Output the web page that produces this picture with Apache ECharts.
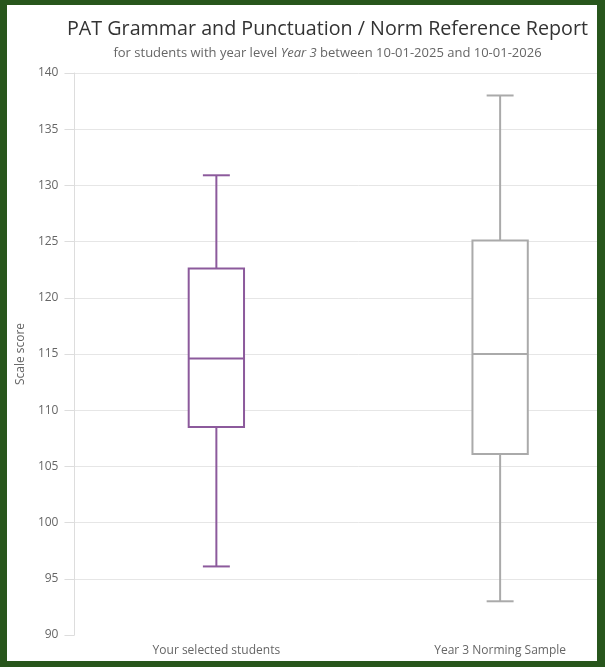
<!DOCTYPE html>
<html>
<head>
<meta charset="utf-8">
<script src="https://cdn.jsdelivr.net/npm/echarts@6/dist/echarts.min.js"></script>
<style>
  html, body { margin: 0; padding: 0; }
  #frame { position: relative; width: 605px; height: 667px; background: #28561c; }
  #inner { position: absolute; left: 7px; top: 5px; width: 590px; height: 656px; background: #fff; overflow: hidden; }
  #main { width: 641px; height: 656px; }
</style>
</head>
<body>
<div id="frame"><div id="inner"><div id="main"></div></div></div>
<script>
// categories and box values [min, q1, median, q3, max]
var categories = ['Your selected students', 'Year 3 Norming Sample']
var selectedStudents = [96.1, 108.5, 114.6, 122.6, 130.9]
var normingSample = [93.0, 106.1, 115.0, 125.1, 138.0]
var yTicks = [90, 95, 100, 105, 110, 115, 120, 125, 130, 135, 140]

var boxColors = ['#8c5a9c', '#aaaaaa']

var Chart = echarts.init(document.getElementById('main'))
var option = {
  backgroundColor: '#fff',
  textStyle: { fontFamily: 'Open Sans' },
  title: {
    text: 'PAT Grammar and Punctuation / Norm Reference Report',
    subtext: 'for students with year level {i|Year 3} between 10-01-2025 and 10-01-2026',
    left: 'center',
    top: 9,
    itemGap: 8,
    textStyle: {
      fontFamily: 'Open Sans',
      fontSize: 19.7,
      fontWeight: 'normal',
      color: '#333'
    },
    subtextStyle: {
      fontFamily: 'Open Sans',
      fontSize: 13,
      color: '#666',
      rich: {
        i: { fontFamily: 'Open Sans', fontSize: 13, color: '#666', fontStyle: 'italic' }
      }
    }
  },
  grid: {
    left: 65,
    top: 68,
    right: 6,
    bottom: 26
  },
  xAxis: {
    type: 'category',
    data: categories,
    axisLine: { show: false },
    axisTick: { show: false },
    axisLabel: { color: '#666', fontSize: 12, margin: 10 }
  },
  yAxis: {
    type: 'value',
    min: yTicks[0],
    max: yTicks[yTicks.length - 1],
    interval: 5,
    name: 'Scale score',
    nameLocation: 'middle',
    nameGap: 45,
    nameTextStyle: { color: '#666', fontSize: 12 },
    axisLine: { show: true, lineStyle: { color: '#dddddd' } },
    axisTick: { show: true, length: 10, lineStyle: { color: '#dddddd' } },
    axisLabel: { color: '#666', fontSize: 12, margin: 16 },
    splitLine: { show: true, showMinLine: false, lineStyle: { color: '#e6e6e6' } }
  },
  series: [
    {
      type: 'custom',
      encode: { x: 0, y: [1, 2, 3, 4, 5] },
      data: [
        [0].concat(selectedStudents),
        [1].concat(normingSample)
      ],
      renderItem: function (params, api) {
        var idx = api.value(0)
        var pMin = api.coord([idx, api.value(1)])
        var pQ1 = api.coord([idx, api.value(2)])
        var pMed = api.coord([idx, api.value(3)])
        var pQ3 = api.coord([idx, api.value(4)])
        var pMax = api.coord([idx, api.value(5)])
        var band = api.size([1, 0])[0]
        var bw = band * 0.195
        var cw = band * 0.095
        var cx = pMed[0]
        var st = { stroke: boxColors[params.dataIndex], lineWidth: 2, fill: null }
        return {
          type: 'group',
          children: [
            { type: 'line', shape: { x1: cx, y1: pMax[1], x2: cx, y2: pQ3[1] }, style: st },
            { type: 'line', shape: { x1: cx, y1: pQ1[1], x2: cx, y2: pMin[1] }, style: st },
            { type: 'line', shape: { x1: cx - cw / 2, y1: pMax[1], x2: cx + cw / 2, y2: pMax[1] }, style: st },
            { type: 'line', shape: { x1: cx - cw / 2, y1: pMin[1], x2: cx + cw / 2, y2: pMin[1] }, style: st },
            {
              type: 'rect',
              shape: { x: cx - bw / 2, y: pQ3[1], width: bw, height: pQ1[1] - pQ3[1] },
              style: { stroke: boxColors[params.dataIndex], lineWidth: 2, fill: '#fff' }
            },
            { type: 'line', shape: { x1: cx - bw / 2, y1: pMed[1], x2: cx + bw / 2, y2: pMed[1] }, style: st }
          ]
        }
      }
    }
  ]
}
Chart.setOption(option)
</script>
</body>
</html>
